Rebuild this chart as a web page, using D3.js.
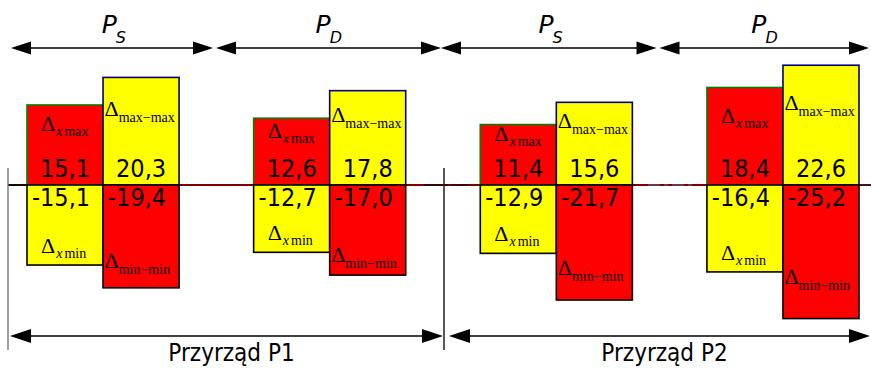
<!DOCTYPE html>
<html>
<head>
<meta charset="utf-8">
<script src="https://cdn.jsdelivr.net/npm/d3@7"></script>
<style>
  html, body { margin: 0; padding: 0; background: #fff; }
  svg { display: block; }
</style>
</head>
<body>
<svg id="chart" width="871" height="368"></svg>
<script>
// Sections of each instrument (static / dynamic) and the instruments
const groups = ["P1-S", "P1-D", "P2-S", "P2-D"];
const sectionSubs = ["S", "D", "S", "D"];
const instruments = ["Przyrząd P1", "Przyrząd P2"];

// Deviations for each section
const deltaXMax   = [15.1, 12.6, 11.4, 18.4];
const deltaMaxMax = [20.3, 17.8, 15.6, 22.6];
const deltaXMin   = [-15.1, -12.7, -12.9, -16.4];
const deltaMinMin = [-19.4, -17.0, -21.7, -25.2];

const W = 871, H = 368;
const svg = d3.select("#chart");

const locale = d3.formatLocale({ decimal: ",", thousands: " ", grouping: [3], currency: ["", ""], minus: "-" });
const fmt = locale.format(".1f");

// Scales
const x = d3.scaleBand().domain(groups).range([27, 859]).paddingInner(0.329).paddingOuter(0);
const xs = d3.scaleBand().domain(["left", "right"]).range([0, x.bandwidth()]);
const y = d3.scaleLinear().domain([-30, 30]).range([185 + 159, 185 - 159]);
const y0 = y(0);

const valueFont = "'DejaVu Sans Condensed', 'DejaVu Sans', sans-serif";
const serif = "'Liberation Serif', 'DejaVu Serif', serif";

// Bar series: side, values, fill, stroke
const series = [
  { side: "left",  values: deltaXMax,   fill: "#ff0000", stroke: "#008000", sub: "xmax" },
  { side: "right", values: deltaMaxMax, fill: "#ffff00", stroke: "#000080", sub: "max−max" },
  { side: "left",  values: deltaXMin,   fill: "#ffff00", stroke: "#000000", sub: "xmin" },
  { side: "right", values: deltaMinMin, fill: "#ff0000", stroke: "#000000", sub: "min−min" }
];

// Zero line
svg.append("line")
  .attr("x1", 8).attr("x2", W).attr("y1", y0).attr("y2", y0)
  .attr("stroke", "#800000").attr("stroke-width", 2);
svg.append("line")
  .attr("x1", 8).attr("x2", x(groups[0])).attr("y1", y0).attr("y2", y0)
  .attr("stroke", "#000").attr("stroke-width", 1.5);
svg.append("line")
  .attr("x1", 424).attr("x2", 468).attr("y1", y0).attr("y2", y0)
  .attr("stroke", "#111").attr("stroke-width", 1.5).attr("stroke-dasharray", "18 3 3 3");
svg.append("line")
  .attr("x1", 648).attr("x2", 692).attr("y1", y0).attr("y2", y0)
  .attr("stroke", "#555").attr("stroke-width", 1.5).attr("stroke-dasharray", "12 4 4 4");
svg.append("line")
  .attr("x1", x(groups[3]) + x.bandwidth()).attr("x2", W).attr("y1", y0).attr("y2", y0)
  .attr("stroke", "#222").attr("stroke-width", 1.5);

// Bars
series.forEach(s => {
  svg.append("g").selectAll("rect")
    .data(s.values.map((v, i) => ({ v, g: groups[i] })))
    .join("rect")
    .attr("x", d => x(d.g) + xs(s.side))
    .attr("width", xs.bandwidth())
    .attr("y", d => Math.min(y(d.v), y0))
    .attr("height", d => Math.abs(y(d.v) - y0))
    .attr("fill", s.fill)
    .attr("stroke", s.stroke)
    .attr("stroke-width", 1.6);
});

// Value labels
const valueTop = y0 - 27;
series.forEach(s => {
  svg.append("g").selectAll("text")
    .data(s.values.map((v, i) => ({ v, g: groups[i] })))
    .join("text")
    .attr("x", d => x(d.g) + xs(s.side) + xs.bandwidth() / 2 - (d.v < 0 ? 4 : 0))
    .attr("y", d => d.v >= 0 ? y0 - 8.5 : y0 + 21)
    .attr("text-anchor", "middle")
    .attr("font-family", valueFont)
    .attr("font-size", 25)
    .attr("fill", "#000")
    .text(d => fmt(d.v));
});

// Delta symbol labels
function deltaLabel(g, xPos, yPos, kind) {
  const t = g.append("text")
    .attr("x", xPos).attr("y", yPos)
    .attr("font-family", serif).attr("fill", "#000");
  t.append("tspan").attr("font-size", 22).text("Δ");
  if (kind === "xmax" || kind === "xmin") {
    t.append("tspan").attr("font-size", 14).attr("font-style", "italic").attr("dy", 5).attr("dx", 1).text("x");
    t.append("tspan").attr("font-size", 14).attr("dx", 2).text(kind.slice(1));
  } else {
    t.append("tspan").attr("font-size", 14).attr("dy", 6).text(kind);
  }
}
const labels = svg.append("g");
series.forEach((s, si) => {
  s.values.forEach((v, i) => {
    const left = x(groups[i]) + xs(s.side);
    let lx, ly;
    if (si === 0) { lx = left + 14; ly = (y(v) + valueTop) / 2; }
    else if (si === 1) { lx = left + 1.5; ly = (y(v) + valueTop) / 2 - 2; }
    else if (si === 2) { lx = left + 14; ly = y(v) - 12; }
    else { lx = left + 1.5; ly = (y0 + 20 + y(v)) / 2 + 22; }
    deltaLabel(labels, lx, ly, s.sub);
  });
});

// Arrow helper
function arrow(g, x1, x2, yy, len, half) {
  g.append("line").attr("x1", x1 + len - 2).attr("x2", x2 - len + 2)
    .attr("y1", yy).attr("y2", yy).attr("stroke", "#000").attr("stroke-width", 1.4);
  g.append("path").attr("d", `M${x1},${yy}L${x1 + len},${yy - half}L${x1 + len},${yy + half}Z`).attr("fill", "#000");
  g.append("path").attr("d", `M${x2},${yy}L${x2 - len},${yy - half}L${x2 - len},${yy + half}Z`).attr("fill", "#000");
}

// Section arrows with P_S / P_D
const topStops = [11, 214.5, 441, 658, 869];
const topY = 48;
const topLayer = svg.append("g");
sectionSubs.forEach((sub, i) => {
  const a = topStops[i], b = topStops[i + 1];
  arrow(topLayer, a + (i === 1 || i === 3 ? 1.5 : 0), b - (i === 0 || i === 2 ? 1.5 : 0), topY, 20, 6.5);
  const t = topLayer.append("text")
    .attr("x", (a + b) / 2 + 1).attr("y", topY - 15)
    .attr("text-anchor", "middle")
    .attr("font-family", "'DejaVu Sans', sans-serif")
    .attr("font-style", "italic").attr("fill", "#000");
  t.append("tspan").attr("font-size", 25).text("P");
  t.append("tspan").attr("font-size", 16).attr("dy", 10).attr("dx", -1).text(sub);
});

// Instrument dividers
const dividers = [8, 444];
svg.append("g").selectAll("line").data(dividers).join("line")
  .attr("x1", d => d).attr("x2", d => d)
  .attr("y1", 168).attr("y2", 350)
  .attr("stroke", (d, i) => i === 0 ? "#777" : "#111").attr("stroke-width", 1.4);

// Instrument arrows
const bottomSpans = [[10, 443], [449, 870]];
const bottomY = 336;
const bottomLayer = svg.append("g");
instruments.forEach((name, i) => {
  const [a, b] = bottomSpans[i];
  arrow(bottomLayer, a, b, bottomY, 21, 7);
  bottomLayer.append("text")
    .attr("x", (a + b) / 2 + 5).attr("y", 361)
    .attr("text-anchor", "middle")
    .attr("font-family", valueFont)
    .attr("font-size", 24).attr("fill", "#000")
    .text(name);
});
</script>
</body>
</html>
